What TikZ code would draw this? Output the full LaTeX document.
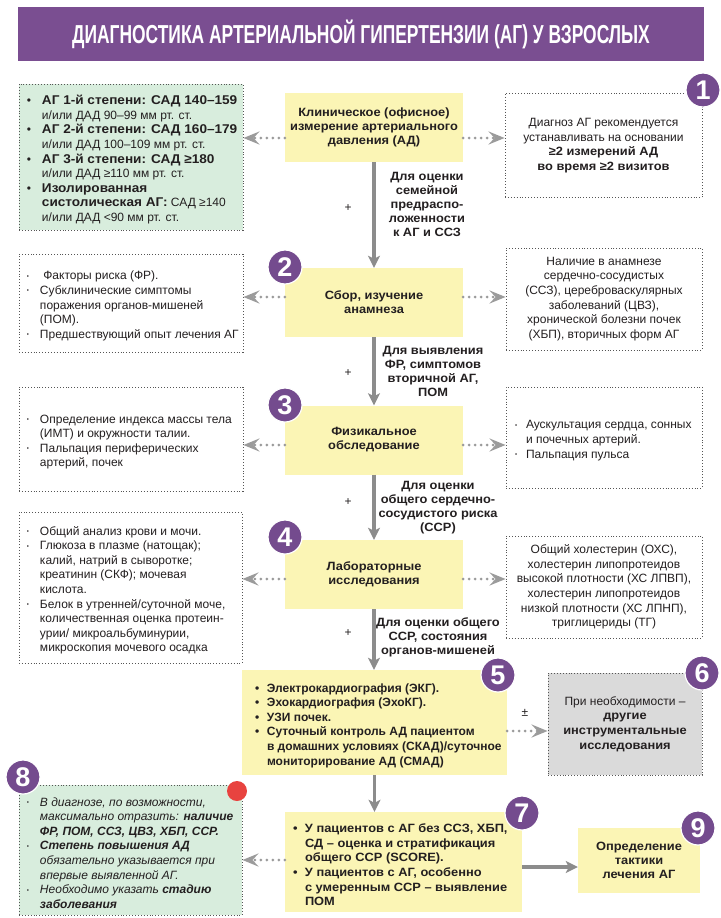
\documentclass[tikz,border=0pt]{standalone}
\usepackage{fontspec}
\setmainfont{Liberation Sans}[BoldFeatures={FakeStretch=1.07}]
\newfontfamily\plainfont{Liberation Sans}
\newfontfamily\titlefont[FakeStretch=0.67]{Liberation Sans}
\usetikzlibrary{arrows.meta}

\definecolor{titlepurple}{HTML}{7A4E91}
\definecolor{badgepurple}{HTML}{744B8E}
\definecolor{boxyellow}{HTML}{FBF5B5}
\definecolor{boxgreen}{HTML}{D8EDDD}
\definecolor{boxgray}{HTML}{DADADA}
\definecolor{framegray}{HTML}{555555}
\definecolor{arrowgray}{HTML}{8C8C8C}
\definecolor{dotgray}{HTML}{9B9B9B}
\definecolor{textdark}{HTML}{231F20}
\definecolor{dotred}{HTML}{E8433F}

% list items: bold bullet and small dot
\newcommand{\bul}[1][13pt]{\par\noindent\hangindent=#1\hangafter=1\makebox[#1][l]{\textbullet}\ignorespaces}
\newcommand{\dotitem}[1][13pt]{\par\noindent\hangindent=#1\hangafter=1\makebox[#1][l]{\raisebox{1.5pt}{\fontsize{6}{6}\selectfont\textbullet}}\ignorespaces}
\newcommand{\bigbold}[1]{{\fontsize{12.7}{14.6}\selectfont\bfseries #1}}

\begin{document}
\begin{tikzpicture}[
    x=1pt, y=-1pt,
    every node/.style={text=textdark},
    titlebar/.style={
        rectangle,
        fill=titlepurple,
        minimum width=686pt,
        minimum height=54pt,
        text=white,
        font=\titlefont\bfseries\fontsize{26}{26}\selectfont
    },
    mainbox/.style={
        rectangle,
        fill=boxyellow,
        minimum width=178pt,
        minimum height=69pt,
        inner sep=0pt,
        align=center,
        font=\fontsize{12}{14}\selectfont\bfseries
    },
    sidebox/.style={
        rectangle,
        draw=framegray,
        dotted,
        line width=0.9pt,
        fill=white,
        inner xsep=4pt,
        inner ysep=0pt,
        font=\fontsize{12}{14.6}\selectfont
    },
    greenbox/.style={sidebox, fill=boxgreen},
    badge/.style={
        circle,
        fill=badgepurple,
        draw=white,
        line width=1.2pt,
        minimum size=34pt,
        inner sep=0pt,
        text=white,
        font=\plainfont\fontsize{27}{27}\selectfont\bfseries
    },
    steplabel/.style={align=center, font=\fontsize{12}{14}\selectfont\bfseries},
    plus/.style={inner sep=0pt, font=\fontsize{12}{12}\selectfont},
    flow/.style={draw=arrowgray, line width=3.2pt, -{Stealth[length=12pt, width=12pt, inset=3pt]}},
    aside/.style={draw=dotgray, line width=3pt, line cap=round, dash pattern=on 0pt off 6pt,
        -{Stealth[length=16pt, width=13pt, inset=6pt]}}
]
\fill[white] (0,0) rectangle (720,918);
\useasboundingbox (0,0) rectangle (720,918);

% Title
\node[titlebar] (title) at (361,34) {ДИАГНОСТИКА АРТЕРИАЛЬНОЙ ГИПЕРТЕНЗИИ (АГ) У ВЗРОСЛЫХ};

% Main column
\node[mainbox] (b1) at (374,127.5) {Клиническое (офисное)\\измерение артериального\\давления (АД)};
\node[mainbox] (b2) at (374,302.5) {Сбор, изучение\\анамнеза};
\node[mainbox] (b3) at (374,440) {Физикальное\\обследование};
\node[mainbox] (b4) at (374,574.5) {Лабораторные\\исследования};
\node[mainbox, minimum width=265pt, minimum height=105pt, inner xsep=5pt, text width=255pt, align=flush left,
    font=\plainfont\fontsize{12}{14.6}\selectfont\bfseries] (b5) at (374.5,722.5) {\leftskip=8pt
    \bul[12pt] Электрокардиография (ЭКГ).
    \bul[12pt] Эхокардиография (ЭхоКГ).
    \bul[12pt] УЗИ почек.
    \bul[12pt] Суточный контроль АД пациентом\newline в домашних условиях (СКАД)/суточное\newline мониторирование АД (СМАД)\par};
\node[sidebox, fill=boxgray, minimum width=154pt, minimum height=102pt, align=center] (b6) at (625,724) {При необходимости –\\\textbf{другие}\\\textbf{инструментальные}\\\textbf{исследования}};
\node[mainbox, minimum width=237pt, minimum height=100pt, inner xsep=4pt, text width=229pt, align=flush left,
    font=\fontsize{12}{14.6}\selectfont\bfseries] (b7) at (403.5,862) {\leftskip=4pt
    \bul[12pt] У пациентов с АГ без ССЗ, ХБП,\newline СД – оценка и стратификация\newline общего ССР (SCORE).
    \bul[12pt] У пациентов с АГ, особенно\newline с умеренным ССР – выявление\newline ПОМ\par};
\node[mainbox, minimum width=122pt, minimum height=65pt] (b9) at (639,860.5) {Определение\\тактики\\лечения АГ};

% Left side
\node[greenbox, minimum height=146pt, text width=216pt, align=flush left] (g1) at (131,157) {\leftskip=4pt
    \bul[15pt] \bigbold{АГ 1-й степени: САД 140–159}\newline и/или ДАД 90–99 мм рт. ст.
    \bul[15pt] \bigbold{АГ 2-й степени: САД 160–179}\newline и/или ДАД 100–109 мм рт. ст.
    \bul[15pt] \bigbold{АГ 3-й степени: САД ≥180}\newline и/или ДАД ≥110 мм рт. ст.
    \bul[15pt] \bigbold{Изолированная\newline систолическая АГ:} САД ≥140\newline и/или ДАД <90 мм рт. ст.\par};
\node[sidebox, minimum height=98pt, text width=216pt, align=flush left] (l2) at (131,303) {\leftskip=4pt
    \dotitem \ Факторы риска (ФР).
    \dotitem Субклинические симптомы\newline поражения органов-мишеней\newline (ПОМ).
    \dotitem Предшествующий опыт лечения АГ\par};
\node[sidebox, minimum height=104pt, text width=216pt, align=flush left] (l3) at (131,439) {\leftskip=4pt
    \dotitem Определение индекса массы тела\newline (ИМТ) и окружности талии.
    \dotitem Пальпация периферических\newline артерий, почек\par};
\node[sidebox, minimum height=151pt, text width=215pt, align=flush left] (l4) at (130.5,587.5) {\leftskip=4pt
    \dotitem Общий анализ крови и мочи.
    \dotitem Глюкоза в плазме (натощак);\newline калий, натрий в сыворотке;\newline креатинин (СКФ); мочевая\newline кислота.
    \dotitem Белок в утренней/суточной моче,\newline количественная оценка протеин-\newline урии/ микроальбуминурии,\newline микроскопия мочевого осадка\par};
\node[greenbox, minimum height=130pt, text width=215pt, align=flush left] (g8) at (130.5,850) {\leftskip=4pt\itshape
    \dotitem В диагнозе, по возможности,\newline максимально отразить: \textbf{наличие\newline ФР, ПОМ, ССЗ, ЦВЗ, ХБП, ССР.}
    \dotitem \textbf{Степень повышения АД}\newline обязательно указывается при\newline впервые выявленной АГ.
    \dotitem Необходимо указать \textbf{стадию\newline заболевания}\par};

% Right side
\node[sidebox, minimum width=197pt, minimum height=104pt, align=center] (r1) at (603.5,145.5) {Диагноз АГ рекомендуется\\устанавливать на основании\\\textbf{≥2 измерений АД}\\\textbf{во время ≥2 визитов}};
\node[sidebox, minimum width=196pt, minimum height=102pt, align=center] (r2) at (604,299) {Наличие в анамнезе\\сердечно-сосудистых\\(ССЗ), цереброваскулярных\\заболеваний (ЦВЗ),\\хронической болезни почек\\(ХБП), вторичных форм АГ};
\node[sidebox, minimum height=101pt, text width=188pt, align=flush left] (r3) at (604,437.5) {\leftskip=5pt
    \dotitem[11pt] Аускультация сердца, сонных\newline и почечных артерий.
    \dotitem[11pt] Пальпация пульса\par};
\node[sidebox, minimum width=196pt, minimum height=102pt, align=center] (r4) at (604,587) {Общий холестерин (ОХС),\\холестерин липопротеидов\\высокой плотности (ХС ЛПВП),\\холестерин липопротеидов\\низкой плотности (ХС ЛПНП),\\триглицериды (ТГ)};

% Labels on the flow
\node[steplabel] (t1) at (427,204) {Для оценки\\семейной\\предраспо-\\ложенности\\к АГ и ССЗ};
\node[steplabel] (t2) at (433,371) {Для выявления\\ФР, симптомов\\вторичной АГ,\\ПОМ};
\node[steplabel] (t3) at (438,508) {Для оценки\\общего сердечно-\\сосудистого риска\\(ССР)};
\node[steplabel] (t4) at (438,637) {Для оценки общего\\ССР, состояния\\органов-мишеней};
\node[plus] (p1) at (348,208) {+};
\node[plus] (p2) at (348,373) {+};
\node[plus] (p3) at (348,502) {+};
\node[plus] (p4) at (348,633) {+};
\node[plus] (pm) at (525,713) {±};

% Connectors
\draw[flow] (b1.south) -- (b2.north);
\draw[flow] (b2.south) -- (b3.north);
\draw[flow] (b3.south) -- (b4.north);
\draw[flow] (b4.south) -- (b4.south |- b5.north);
\draw[flow] (b5.south) -- (b5.south |- b7.north);
\draw[flow] ([yshift=-5pt]b7.east) -- ([yshift=-5pt]b7.east -| b9.west);

\draw[aside] ([yshift=-10.5pt]b1.west) -- ([yshift=-10.5pt]b1.west -| g1.east);
\draw[aside] ([yshift=-10.5pt]b1.east) -- ([yshift=-10.5pt]b1.east -| r1.west);
\draw[aside] ([yshift=5.5pt]b2.west) -- ([yshift=5.5pt]b2.west -| l2.east);
\draw[aside] ([yshift=5.5pt]b2.east) -- ([yshift=5.5pt]b2.east -| r2.west);
\draw[aside] ([yshift=-5pt]b3.west) -- ([yshift=-5pt]b3.west -| l3.east);
\draw[aside] ([yshift=-5pt]b3.east) -- ([yshift=-5pt]b3.east -| r3.west);
\draw[aside] ([yshift=-4.5pt]b4.west) -- ([yshift=-4.5pt]b4.west -| l4.east);
\draw[aside] ([yshift=-4.5pt]b4.east) -- ([yshift=-4.5pt]b4.east -| r4.west);
\draw[aside] ([yshift=-8.5pt]b5.east) -- ([yshift=-8.5pt]b5.east -| b6.west);
\draw[aside] ([yshift=2pt]b7.west) -- ([yshift=2pt]b7.west -| g8.east);

% Badges
\node[badge] (n1) at (703,90) {1};
\node[badge] (n2) at (285,267) {2};
\node[badge] (n3) at (285,405) {3};
\node[badge] (n4) at (285,537) {4};
\node[badge] (n5) at (498,675) {5};
\node[badge] (n6) at (702,673) {6};
\node[badge] (n7) at (522,813) {7};
\node[badge] (n8) at (23,777) {8};
\node[badge] (n9) at (698,828) {9};
\node[circle, fill=dotred, minimum size=20pt, inner sep=0pt] (reddot) at (237,791) {};

\end{tikzpicture}
\end{document}
